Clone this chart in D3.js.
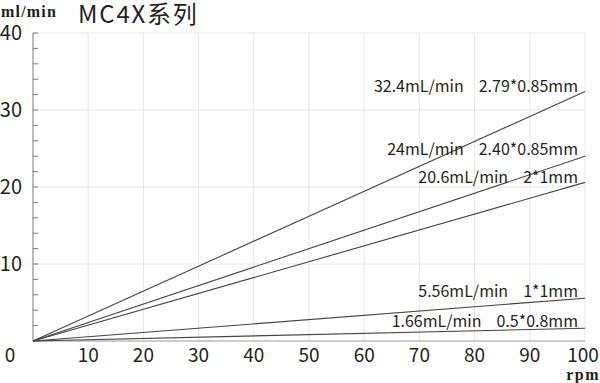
<!DOCTYPE html>
<html><head><meta charset="utf-8">
<script src="https://cdn.jsdelivr.net/npm/d3@7"></script>
<style>body{margin:0;background:#fff}svg{display:block}</style>
</head><body>
<svg id="c" width="600" height="383"></svg>
<script>
const flowRates = [32.4, 24, 20.6, 5.56, 1.66];
const tubeSizes = ["2.79*0.85mm", "2.40*0.85mm", "2*1mm", "1*1mm", "0.5*0.8mm"];
const xTicks = [10,20,30,40,50,60,70,80,90,100];
const yTicks = [10,20,30,40];
const yMinor = d3.range(0, 41, 2);

const svg = d3.select("#c");
const x = d3.scaleLinear().domain([0,100]).range([33,585]);
const y = d3.scaleLinear().domain([0,40]).range([341,33]);
const font = "'Noto Sans CJK SC','Noto Sans',sans-serif";
const ink = "#231f20";

// grid
svg.append("g").selectAll("line").data(xTicks).join("line")
  .attr("x1", d=>x(d)).attr("x2", d=>x(d)).attr("y1", y(40)).attr("y2", y(0))
  .attr("stroke", "#e6e6e6").attr("stroke-width", 1);
svg.append("g").selectAll("line").data(yTicks).join("line")
  .attr("x1", x(0)).attr("x2", x(100)).attr("y1", d=>y(d)).attr("y2", d=>y(d))
  .attr("stroke", "#e6e6e6").attr("stroke-width", 1);

// y axis with minor ticks
svg.append("line").attr("x1", x(0)).attr("x2", x(0)).attr("y1", y(40)).attr("y2", y(0))
  .attr("stroke", "#777").attr("stroke-width", 1);
svg.append("g").selectAll("line").data(yMinor).join("line")
  .attr("x1", x(0)).attr("x2", x(0)+5).attr("y1", d=>y(d)).attr("y2", d=>y(d))
  .attr("stroke", "#777").attr("stroke-width", 1);
// x axis baseline
svg.append("line").attr("x1", x(0)).attr("x2", x(100)).attr("y1", y(0)).attr("y2", y(0))
  .attr("stroke", "#999").attr("stroke-width", 1);

// y labels
svg.append("g").selectAll("text").data(yTicks).join("text")
  .attr("x", 22).attr("y", d=>y(d)).attr("dy", "0.36em").attr("text-anchor", "end")
  .attr("font-family", font).attr("font-size", 20).attr("fill", ink).text(d=>d);
// x labels
svg.append("g").selectAll("text").data(xTicks).join("text")
  .attr("x", d=>Math.min(x(d), 583)).attr("y", 355).attr("dy", "0.36em").attr("text-anchor", "middle")
  .attr("font-family", font).attr("font-size", 19).attr("fill", ink).text(d=>d);
svg.append("text").attr("x", 10).attr("y", 355).attr("dy", "0.36em").attr("text-anchor", "middle")
  .attr("font-family", font).attr("font-size", 19).attr("fill", ink).text("0");

// axis titles
svg.append("text").attr("x", 1).attr("y", 17).attr("font-family", "'Liberation Serif',serif")
  .attr("font-weight", "bold").attr("font-size", 16).attr("letter-spacing", 1.2).attr("fill", ink).text("ml/min");
svg.append("text").attr("x", 600).attr("y", 380).attr("text-anchor", "end").attr("font-family", "'Liberation Serif',serif")
  .attr("font-weight", "bold").attr("font-size", 16).attr("letter-spacing", 1.5).attr("fill", ink).text("rpm");
svg.append("text").attr("x", 78).attr("y", 23).attr("font-family", font)
  .attr("font-size", 24).attr("letter-spacing", 1.8).attr("fill", ink).text("MC4X系列");

// lines
svg.append("g").selectAll("line").data(flowRates).join("line")
  .attr("x1", x(0)).attr("y1", y(0)).attr("x2", x(100)).attr("y2", d=>y(d))
  .attr("stroke", "#444").attr("stroke-width", 1.1);

// line labels: tube size right-aligned, flow rate placed with a gap before it
const labelY = [86, 149, 177, 291, 321];
const lg = svg.append("g");
flowRates.forEach((d,i)=>{
  const t2 = lg.append("text").attr("x", 578).attr("y", labelY[i]).attr("dy", "0.36em")
    .attr("text-anchor", "end").attr("font-family", font).attr("font-size", 16).attr("fill", ink)
    .text(tubeSizes[i]);
  const w = t2.node().getComputedTextLength();
  lg.append("text").attr("x", 578 - w - 15).attr("y", labelY[i]).attr("dy", "0.36em")
    .attr("text-anchor", "end").attr("font-family", font).attr("font-size", 16).attr("fill", ink)
    .text(`${d}mL/min`);
});
</script>
</body></html>
